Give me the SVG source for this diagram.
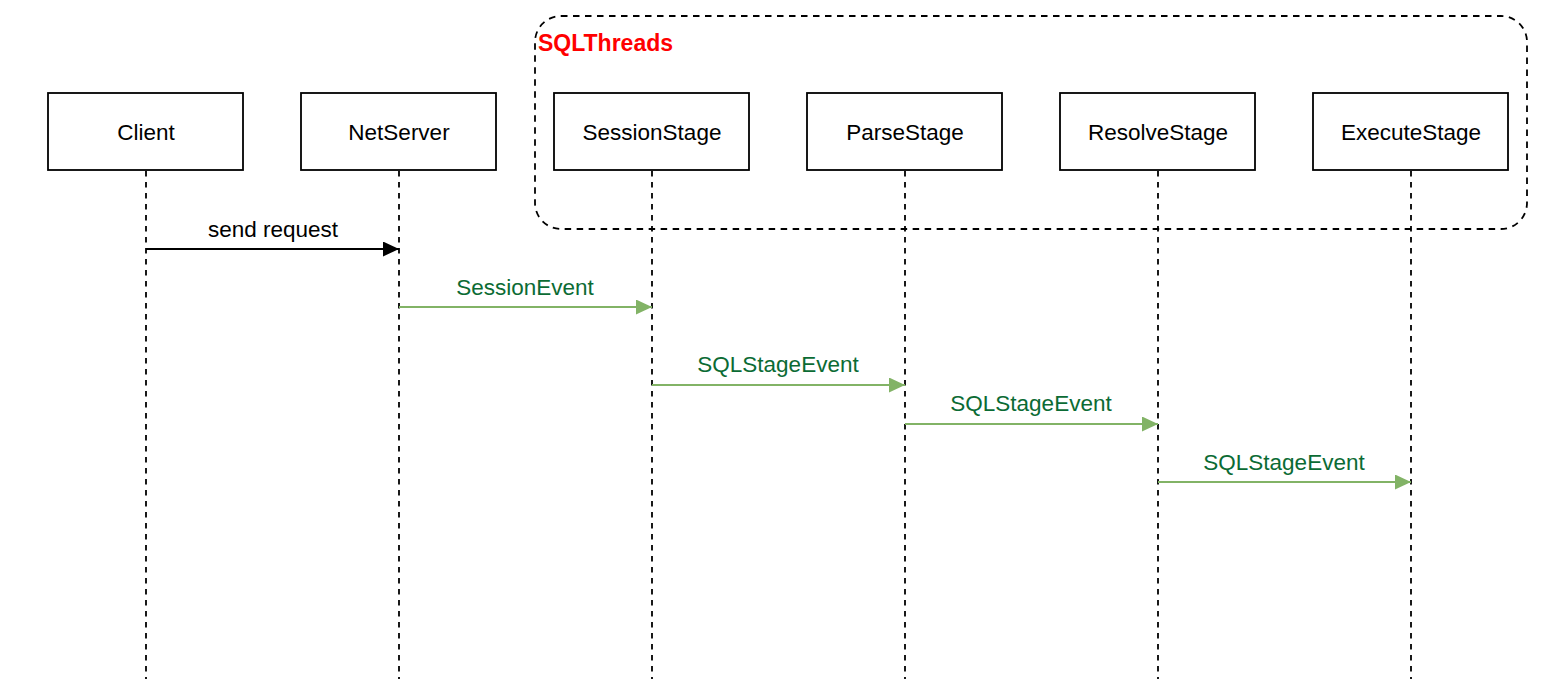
<svg xmlns="http://www.w3.org/2000/svg" width="1550" height="700" viewBox="0 0 1550 700">
  <style>
    .box { fill: #ffffff; stroke: #000000; stroke-width: 1.8; }
    .lbl { font-family: "Liberation Sans", Arial, sans-serif; font-size: 22.5px; fill: #000000; text-anchor: middle; }
    .life { stroke: #000000; stroke-width: 1.8; stroke-dasharray: 5.5 5.5; fill: none; }
    .msg { stroke: #82b366; stroke-width: 2; fill: none; }
    .msgb { stroke: #000000; stroke-width: 2; fill: none; }
    .glbl { font-family: "Liberation Sans", Arial, sans-serif; font-size: 22.5px; fill: #0b6b34; text-anchor: middle; }
    .group { fill: none; stroke: #000000; stroke-width: 1.8; stroke-dasharray: 6.5 5.5; }
  </style>
  <defs>
    <marker id="ahB" viewBox="0 0 16 15" refX="16" refY="7.5" markerWidth="16" markerHeight="15" markerUnits="userSpaceOnUse" orient="auto">
      <path d="M0,0 L16,7.5 L0,15 Z" fill="#000000"/>
    </marker>
    <marker id="ahG" viewBox="0 0 16 15" refX="16" refY="7.5" markerWidth="16" markerHeight="15" markerUnits="userSpaceOnUse" orient="auto">
      <path d="M0,0 L16,7.5 L0,15 Z" fill="#82b366"/>
    </marker>
  </defs>
  <rect width="1550" height="700" fill="#ffffff"/>

  <g id="SQLThreads">
    <rect class="group" x="535" y="16" width="992" height="213" rx="26" ry="26"/>
    <text x="538" y="51" font-family="Liberation Sans, Arial, sans-serif" font-size="23" font-weight="bold" fill="#ff0000">SQLThreads</text>
  </g>

  <g id="lifelines">
    <line class="life" x1="146" y1="171" x2="146" y2="679"/>
    <line class="life" x1="399" y1="171" x2="399" y2="679"/>
    <line class="life" x1="652" y1="171" x2="652" y2="679"/>
    <line class="life" x1="905" y1="171" x2="905" y2="679"/>
    <line class="life" x1="1158" y1="171" x2="1158" y2="679"/>
    <line class="life" x1="1411" y1="171" x2="1411" y2="679"/>
  </g>

  <g id="Client">
    <rect class="box" x="48" y="93" width="195" height="77"/>
    <text class="lbl" x="146" y="140">Client</text>
  </g>
  <g id="NetServer">
    <rect class="box" x="301" y="93" width="195" height="77"/>
    <text class="lbl" x="399" y="140">NetServer</text>
  </g>
  <g id="SessionStage">
    <rect class="box" x="554" y="93" width="195" height="77"/>
    <text class="lbl" x="652" y="140">SessionStage</text>
  </g>
  <g id="ParseStage">
    <rect class="box" x="807" y="93" width="195" height="77"/>
    <text class="lbl" x="905" y="140">ParseStage</text>
  </g>
  <g id="ResolveStage">
    <rect class="box" x="1060" y="93" width="195" height="77"/>
    <text class="lbl" x="1158" y="140">ResolveStage</text>
  </g>
  <g id="ExecuteStage">
    <rect class="box" x="1313" y="93" width="195" height="77"/>
    <text class="lbl" x="1411" y="140">ExecuteStage</text>
  </g>

  <g id="connectors">
    <line class="msgb" x1="146" y1="249" x2="399" y2="249" marker-end="url(#ahB)"/>
    <text class="lbl" x="273" y="237">send request</text>

    <line class="msg" x1="399" y1="307" x2="652" y2="307" marker-end="url(#ahG)"/>
    <text class="glbl" x="525" y="295">SessionEvent</text>

    <line class="msg" x1="652" y1="385" x2="905" y2="385" marker-end="url(#ahG)"/>
    <text class="glbl" x="778" y="372">SQLStageEvent</text>

    <line class="msg" x1="905" y1="424" x2="1158" y2="424" marker-end="url(#ahG)"/>
    <text class="glbl" x="1031" y="411">SQLStageEvent</text>

    <line class="msg" x1="1158" y1="482" x2="1411" y2="482" marker-end="url(#ahG)"/>
    <text class="glbl" x="1284" y="470">SQLStageEvent</text>
  </g>
</svg>
